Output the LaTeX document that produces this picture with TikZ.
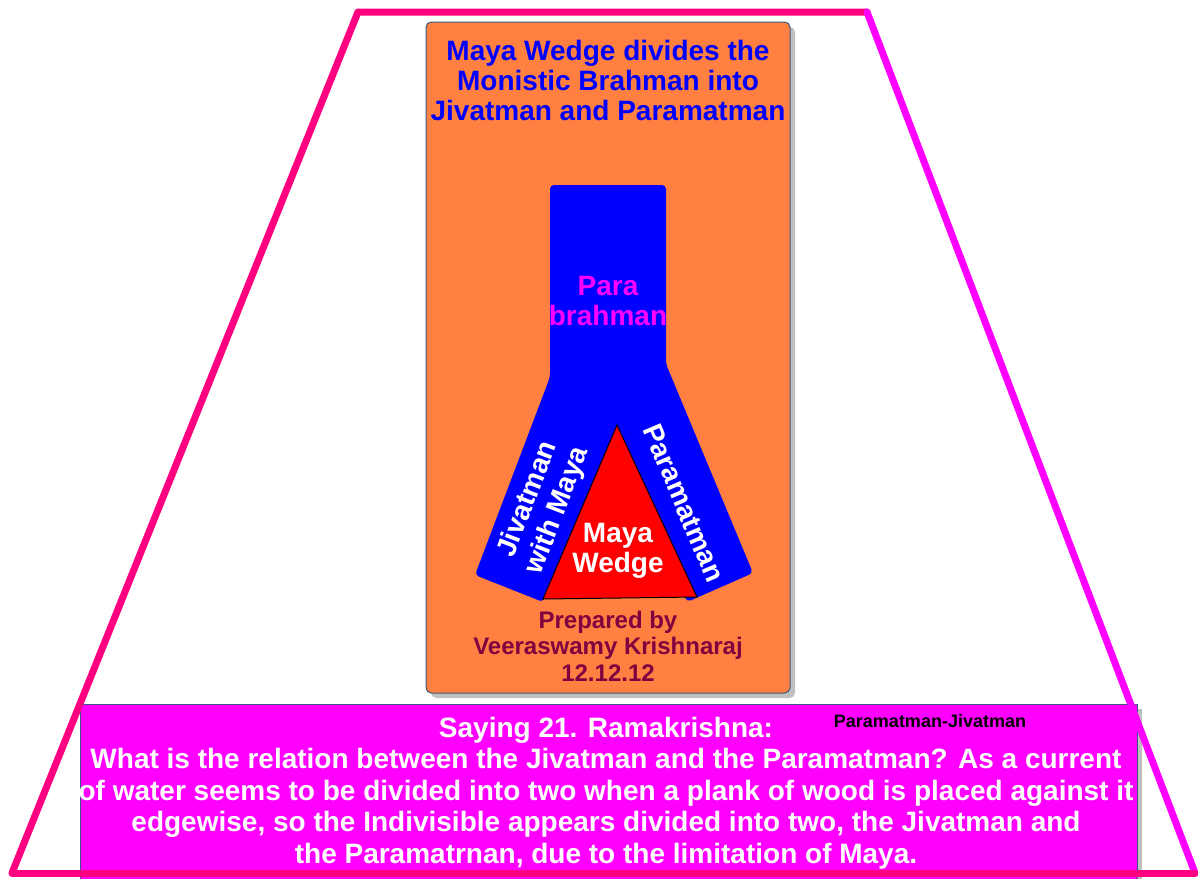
\documentclass[tikz,border=0pt]{standalone}
\usepackage{fontspec}
\setmainfont{Liberation Sans}
\definecolor{trpink}{HTML}{FF0080}
\definecolor{trmag}{HTML}{FF00FF}
\definecolor{orbox}{HTML}{FF8040}
\definecolor{boxline}{HTML}{3B5A7F}
\definecolor{maroontxt}{HTML}{800040}
\definecolor{shadowgray}{HTML}{BFBFBF}
\tikzset{
  bigtxt/.style={align=center, font=\bfseries\fontsize{21}{22.5}\selectfont, inner sep=0pt},
  boxedge/.style={draw=boxline, line width=0.75pt},
  trline/.style={line width=5.25pt, line join=round, line cap=round},
}
\begin{document}
\begin{tikzpicture}[x=0.75pt,y=-0.75pt]
\useasboundingbox (0,0) rectangle (1198,878);
\clip (0,0) rectangle (1198,878);
% bottom magenta box
\fill[shadowgray] (85,709) rectangle (1142,885);
\fill[trmag, boxedge] (80,704) rectangle (1137,885);
% orange box
\fill[shadowgray, rounded corners=4pt] (431,27) rectangle (795,698);
\fill[orbox, boxedge, rounded corners=4pt] (426,22) rectangle (790,693);
% Y shape
\fill[blue, rounded corners=3pt] (550,377) -- (550,185) -- (666,185) -- (666,364) -- (753,573) -- (687,602) -- (617,425) -- (543,602) -- (475,575) -- cycle;
\draw[black, fill=red, line width=0.75pt] (617,425) -- (697,597) -- (543,599) -- cycle;
% texts
\node[bigtxt, text=blue] (title) at (608,80) {Maya Wedge divides the\\Monistic Brahman into\\Jivatman and Paramatman};
\node[bigtxt, text=trmag] (para) at (608,301) {Para\\brahman};
\node[bigtxt, text=white, rotate=69, font=\bfseries\fontsize{21}{23.5}\selectfont] (jiva) at (543,505) {Jivatman\\with Maya};
\node[bigtxt, text=white, rotate=-67] (param) at (684,503) {Paramatman};
\node[bigtxt, text=white] (maya) at (618,551) {Maya\\Wedge};
\node[align=center, inner sep=0pt, text=maroontxt, font=\bfseries\fontsize{18}{20}\selectfont] (prep) at (608,646) {Prepared by\\Veeraswamy Krishnaraj\\12.12.12};
\node[align=center, inner sep=0pt, text=white, font=\bfseries\fontsize{21}{23.6}\selectfont] (saying) at (606,793) {Saying 21. Ramakrishna:\\What is the relation between the Jivatman and the Paramatman? As a current\\of water seems to be divided into two when a plank of wood is placed against it\\edgewise, so the Indivisible appears divided into two, the Jivatman and\\the Paramatrnan, due to the limitation of Maya.};
\node[inner sep=0pt, text=black, font=\bfseries\fontsize{13.5}{15}\selectfont] (tag) at (930,721) {Paramatman-Jivatman};
% trapezoid frame
\draw[trpink, trline] (12,873) -- (358,12) -- (867,12);
\draw[trmag, trline] (867,12) -- (1195,873);
\draw[trpink, trline] (1195,873) -- (12,873);
\end{tikzpicture}
\end{document}
